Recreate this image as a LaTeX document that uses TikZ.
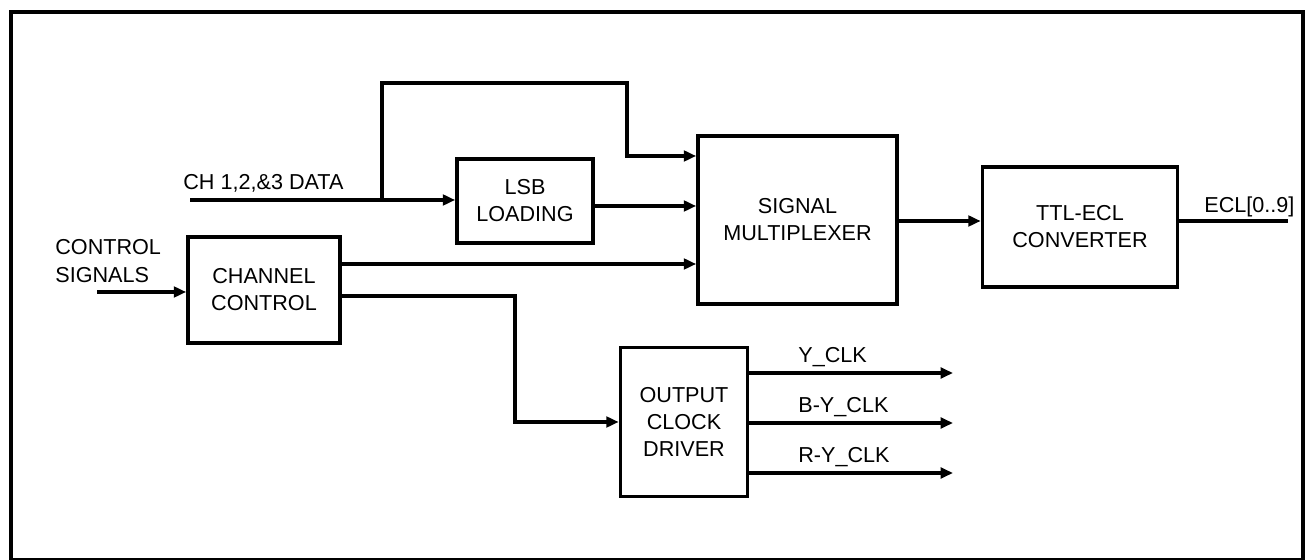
\documentclass[tikz,border=0pt]{standalone}
\usepackage{fontspec}
\setmainfont{Liberation Sans}
\usetikzlibrary{
  arrows.meta,
  positioning,
  calc,
}

\begin{document}
\begin{tikzpicture}[
    x=0.02cm, y=-0.02cm,
    blk/.style={draw, line width=2.1pt, align=center, inner sep=0pt,
      font=\fontsize{12.3}{15.4}\selectfont},
    lbl/.style={inner sep=0pt, anchor=base west, font=\fontsize{12.3}{14}\selectfont},
    wire/.style={line width=2pt},
    sig/.style={wire, -{Triangle[length=7pt,width=6pt]}},
  ]
  \useasboundingbox (0,0) rectangle (1309,560);
  \draw[line width=2.4pt] (11,12) rectangle (1303,560);

  % blocks
  \node[blk, minimum width=3.04cm, minimum height=2.12cm] (chan) at (264,290) {CHANNEL\\CONTROL};
  \node[blk, minimum width=2.72cm, minimum height=1.68cm] (lsb) at (525,201) {LSB\\LOADING};
  \node[blk, minimum width=3.98cm, minimum height=3.36cm] (mux) at (797.5,220) {SIGNAL\\MULTIPLEXER};
  \node[blk, minimum width=3.9cm, minimum height=2.4cm] (conv) at (1080,227) {TTL-ECL\\CONVERTER};
  \node[blk, minimum width=2.54cm, minimum height=2.98cm] (ocd) at (684,422) {OUTPUT\\CLOCK\\DRIVER};

  % inputs
  \coordinate (datain) at (190,200);
  \coordinate (tap) at (382,200);
  \coordinate (bend) at (627,83);
  \coordinate (ctrlin) at (97,292);
  \node[lbl] (datalbl) at (183,190) {CH 1,2,\&3 DATA};
  \node[lbl] (ctrllbl) at (55,255) {CONTROL};
  \node[lbl] (siglbl) at (55,283) {SIGNALS};

  \draw[sig] (datain) -- (datain -| lsb.west);
  \draw[sig] (tap) |- (bend) |- (mux.west |- 0,156);
  \draw[sig] (lsb.east |- 0,206) -- (mux.west |- 0,206);
  \draw[sig] (ctrlin) -- (ctrlin -| chan.west);
  \draw[sig] (chan.east |- 0,264) -- (mux.west |- 0,264);
  \draw[sig] (chan.east |- 0,296) -| (515,350) |- (ocd.west);
  \draw[sig] (mux.east |- 0,221) -- (conv.west |- 0,221);

  % outputs
  \coordinate (eclout) at (1288,221);
  \draw[wire] (conv.east |- eclout) -- (eclout);
  \node[lbl] (ecllbl) at (1204,213) {ECL[0..9]};

  \coordinate (yclk) at (953,373);
  \coordinate (byclk) at (953,423);
  \coordinate (ryclk) at (953,473);
  \draw[sig] (ocd.east |- yclk) -- (yclk);
  \draw[sig] (ocd.east |- byclk) -- (byclk);
  \draw[sig] (ocd.east |- ryclk) -- (ryclk);
  \node[lbl] (ylbl) at (798,363) {Y\_CLK};
  \node[lbl] (bylbl) at (798,413) {B-Y\_CLK};
  \node[lbl] (rylbl) at (798,463) {R-Y\_CLK};
\end{tikzpicture}
\end{document}
